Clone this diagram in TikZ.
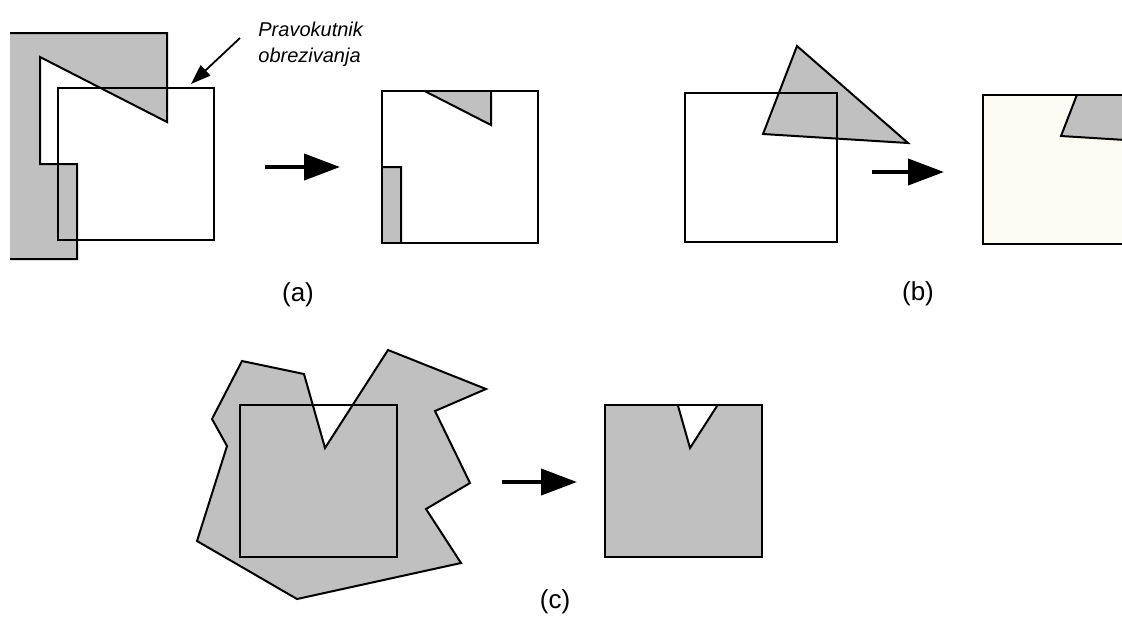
\documentclass[tikz,border=0pt]{standalone}
\usepackage{fontspec}
\setsansfont{Liberation Sans}
\usepackage{xcolor}
\usepackage{tikz}
\usetikzlibrary{arrows.meta,calc}
\definecolor{polygrey}{RGB}{192,192,192}
\definecolor{cream}{RGB}{253,252,243}
\tikzset{
  clipbox/.style  ={draw=black, line width=1pt, line join=miter},
  shadepoly/.style={fill=polygrey, draw=black, line width=1pt, line join=miter},
  bigarrow/.style ={-{Triangle[length=18pt,width=13pt]}, line width=2pt},
  leader/.style   ={-{Triangle[length=10pt,width=7pt]}, line width=0.9pt},
  caption/.style  ={font=\sffamily\fontsize{13}{15}\selectfont, inner sep=0pt},
  callout/.style  ={font=\sffamily\itshape\fontsize{10}{13}\selectfont,
                    align=left, anchor=north west, inner sep=0pt}
}

\begin{document}
\begin{tikzpicture}[x=0.5pt, y=-0.5pt]
  \useasboundingbox (0,0) rectangle (1122,617);

  % ---------------- (a) ----------------
  \fill[polygrey] (10,33) -- (167,33) -- (167,122) -- (40,57) -- (40,164)
               -- (77,164) -- (77,259) -- (10,259) -- cycle;
  \draw[clipbox] (10,33) -- (167,33) -- (167,122) -- (40,57) -- (40,164)
               -- (77,164) -- (77,259) -- (10,259);
  \draw[clipbox] (58,88) rectangle (214,240);
  \node[callout] (note) at (258,22) {Pravokutnik\\obrezivanja};
  \coordinate (leadfrom) at (240,38);
  \coordinate (leadto)   at (191,84);
  \draw[leader] (leadfrom) -- (leadto);
  \coordinate (afrom) at (265,167);
  \coordinate (ato)   at (340,167);
  \draw[bigarrow] (afrom) -- (ato);
  \begin{scope}[shift={(324,3)}]
    \begin{scope}
      \clip (58,88) rectangle (214,240);
      \draw[shadepoly] (10,33) -- (167,33) -- (167,122) -- (40,57) -- (40,164)
                       -- (77,164) -- (77,259) -- (10,259) -- cycle;
    \end{scope}
    \draw[clipbox] (58,88) rectangle (214,240);
  \end{scope}
  \node[caption] (capa) at (298,295) {(a)};

  % ---------------- (b) ----------------
  \draw[shadepoly] (797,46) -- (908,143) -- (763,134) -- cycle;
  \draw[clipbox] (685,93) rectangle (837,242);
  \coordinate (bfrom) at (872,172);
  \coordinate (bto)   at (944,172);
  \draw[bigarrow] (bfrom) -- (bto);
  \begin{scope}[shift={(298,2)}]
    \fill[cream] (685,93) rectangle (837,242);
    \begin{scope}
      \clip (685,93) rectangle (837,242);
      \draw[shadepoly] (797,46) -- (908,143) -- (763,134) -- cycle;
    \end{scope}
    \draw[clipbox] (685,93) rectangle (837,242);
  \end{scope}
  \node[caption] (capb) at (918,294) {(b)};

  % ---------------- (c) ----------------
  \draw[shadepoly] (242,361) -- (304,374) -- (325,448) -- (388,350) -- (486,389)
                   -- (435,411) -- (470,483) -- (426,509) -- (461,563)
                   -- (297,599) -- (197,541) -- (227,446) -- (212,419) -- cycle;
  \draw[clipbox] (240,405) rectangle (397,557);
  \coordinate (cfrom) at (502,482);
  \coordinate (cto)   at (577,482);
  \draw[bigarrow] (cfrom) -- (cto);
  \begin{scope}[shift={(365,0)}]
    \begin{scope}
      \clip (240,405) rectangle (397,557);
      \draw[shadepoly] (242,361) -- (304,374) -- (325,448) -- (388,350) -- (486,389)
                       -- (435,411) -- (470,483) -- (426,509) -- (461,563)
                       -- (297,599) -- (197,541) -- (227,446) -- (212,419) -- cycle;
    \end{scope}
    \draw[clipbox] (240,405) rectangle (397,557);
  \end{scope}
  \node[caption] (capc) at (555,602) {(c)};
\end{tikzpicture}
\end{document}
